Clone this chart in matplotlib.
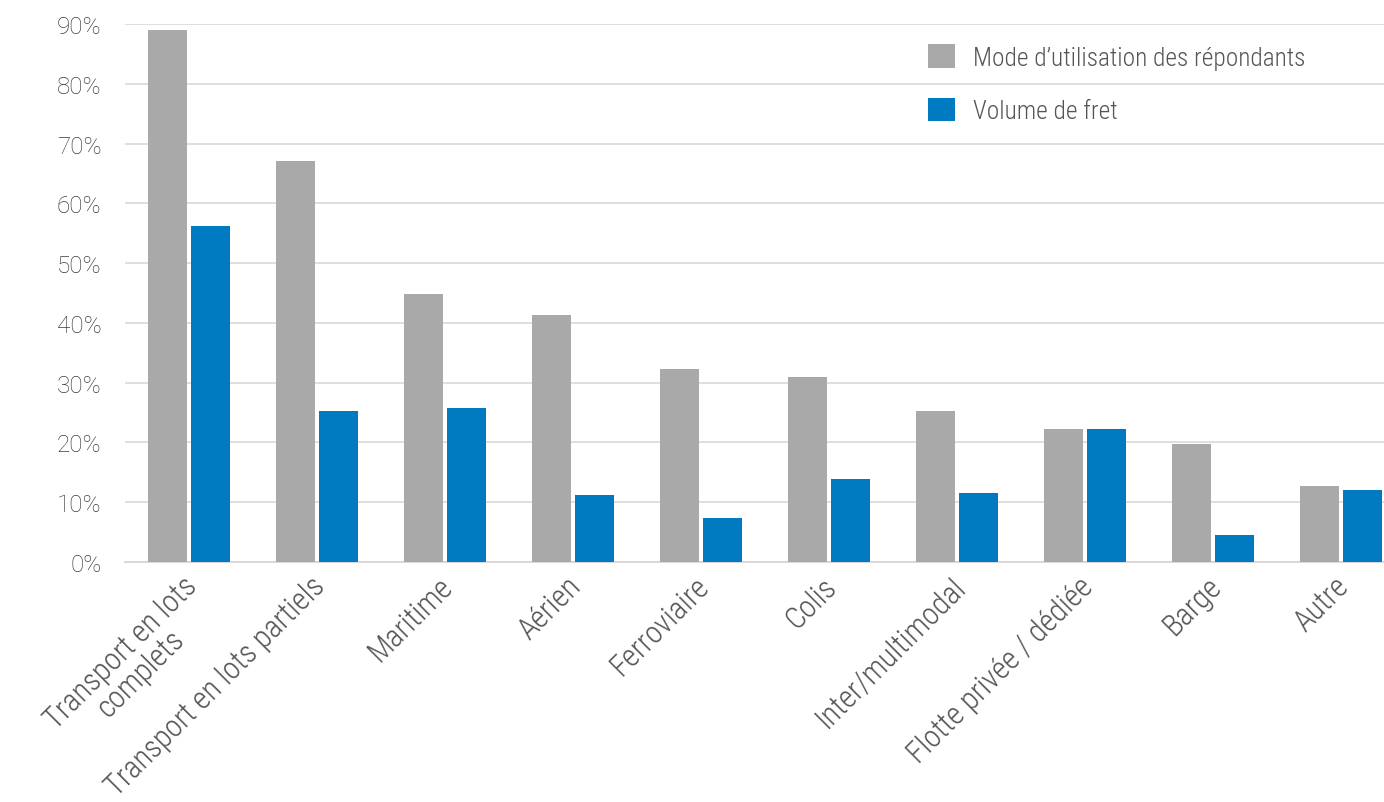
import matplotlib.pyplot as plt
import matplotlib.transforms as mtransforms
import numpy as np

# Données
categories = ["Transport en lots\ncomplets", "Transport en lots partiels", "Maritime", "Aérien",
              "Ferroviaire", "Colis", "Inter/multimodal", "Flotte privée / dédiée", "Barge", "Autre"]
mode_utilisation = [89, 67, 44.8, 41.3, 32.3, 31, 25.2, 22.2, 19.7, 12.7]
volume_fret = [56.2, 25.2, 25.8, 11.2, 7.3, 13.9, 11.5, 22.2, 4.6, 12]

plt.rcParams['font.family'] = ['Roboto', 'DejaVu Sans']
plt.rcParams['font.weight'] = 'light'

texte = '#3c3c3c'
texte_cond = '#555555'
gris = '#A9A9A9'
bleu = '#007AC0'
grille = '#D9D9D9'
condensed = ['Roboto Condensed', 'Roboto']

fig = plt.figure(figsize=(13.84, 8.03), dpi=100)
ax = fig.add_axes([125 / 1384, 1 - 563 / 803, 1280 / 1384, (563 - 25) / 803])

x = np.arange(len(categories))
w = 0.305
ax.bar(x - 0.168, mode_utilisation, width=w, color=gris, label="Mode d’utilisation des répondants", zorder=3)
ax.bar(x + 0.168, volume_fret, width=w, color=bleu, label="Volume de fret", zorder=3)

ax.set_xlim(-0.5, len(categories) - 0.5)
ax.set_ylim(0, 90)
ax.set_yticks(range(0, 91, 10))
ax.set_yticklabels([f"{v}%" for v in range(0, 91, 10)])
ax.grid(axis='y', color=grille, linewidth=1.2, zorder=0)

for s in ['top', 'right', 'left']:
    ax.spines[s].set_visible(False)
ax.spines['bottom'].set_color(grille)
ax.spines['bottom'].set_linewidth(1.5)
ax.tick_params(axis='both', length=0, colors=texte)
ax.tick_params(axis='y', pad=17, labelsize=17.5)

ax.set_xticks(x)
ax.set_xticklabels(categories, rotation=45, ha='right', rotation_mode='anchor',
                   multialignment='center', fontsize=22, family=condensed, linespacing=1.0,
                   color=texte_cond)
ax.tick_params(axis='x', pad=8)
# petit décalage des étiquettes vers la gauche
decalage = mtransforms.ScaledTranslation(-0.07, 0.02, fig.dpi_scale_trans)
for lab in ax.get_xticklabels():
    lab.set_transform(lab.get_transform() + decalage)

leg = ax.legend(loc='upper left', bbox_to_anchor=(780 / 1280, 1.005), frameon=False,
                prop={'family': condensed, 'size': 18.3, 'weight': 'light'},
                labelspacing=1.1, handlelength=1.06, handleheight=1.06,
                handletextpad=0.71, labelcolor=texte_cond)

fig.savefig('out.png', dpi=100)
